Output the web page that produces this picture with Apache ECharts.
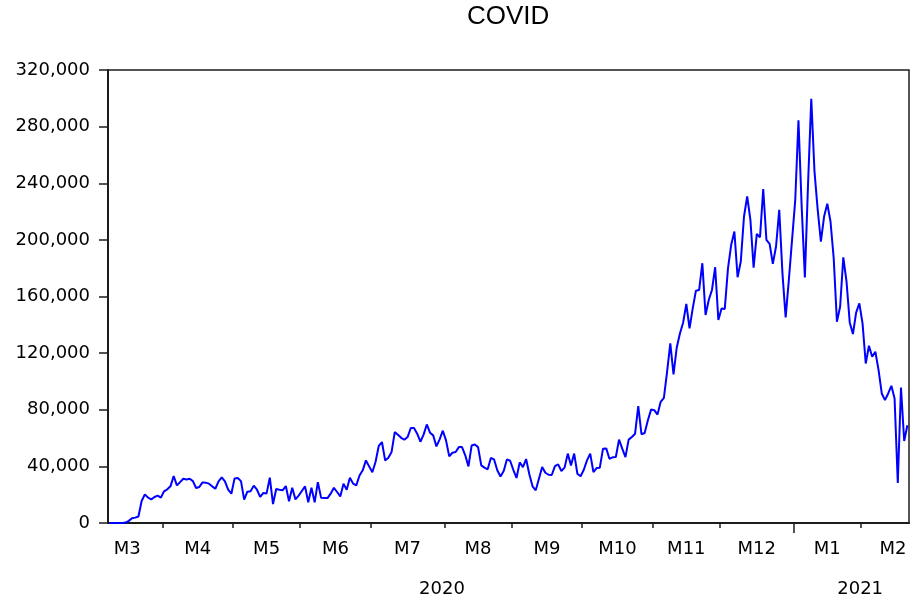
<!DOCTYPE html>
<html>
<head>
<meta charset="utf-8">
<title>COVID</title>
<script src="https://cdn.jsdelivr.net/npm/echarts@6/dist/echarts.min.js"></script>
<style>
  html, body { margin: 0; padding: 0; background: #ffffff; }
  #chart { width: 914px; height: 601px; }
</style>
</head>
<body>
<div id="chart"></div>
<script>
// Daily new COVID cases, one value per weekday, 9 Mar 2020 to 19 Feb 2021.
const mar2020 = [0, 0, 0, 0, 0, 300, 1500, 3400, 3800, 4600, 15500, 20200, 17900, 16700, 18400, 19300, 17900];
const apr2020 = [22400, 23800, 25900, 33200, 26600, 28900, 31300, 30800, 31300, 29600, 24700, 25400, 28700, 28500, 27800, 25900, 24200, 29400, 32200, 29400, 23500, 20700];
const may2020 = [31500, 31800, 29600, 16500, 22100, 22400, 26400, 23500, 18400, 21200, 20900, 32000, 13400, 24000, 23500, 23100, 26100, 15300, 24900, 16700, 19300];
const jun2020 = [22600, 25900, 14600, 24900, 14600, 28900, 17900, 17600, 17600, 20700, 24900, 21900, 18800, 27800, 23500, 32000, 27800, 26600, 33600, 37200, 44200, 40000];
const jul2020 = [35800, 43100, 54400, 57200, 44200, 46100, 50100, 64200, 62400, 60200, 58800, 60700, 67100, 67100, 63100, 57400, 62400, 69600, 63800, 61900, 54100, 59100, 65200];
const aug2020 = [58400, 47100, 49600, 50100, 53600, 53600, 47800, 40000, 54800, 55500, 53600, 40700, 39100, 37900, 45900, 44900, 37200, 32900, 36700, 44900, 44000];
const sep2020 = [37600, 31800, 42800, 39500, 45200, 34400, 25900, 23100, 31300, 39500, 35500, 34100, 33900, 40200, 41400, 36700, 39100, 49000, 40700, 49000, 34800, 33000];
const oct2020 = [37600, 44250, 49000, 36000, 38800, 39100, 52500, 52700, 45400, 46400, 46600, 58900, 52500, 46600, 58900, 60800, 63100, 82500, 62700, 63600, 72600, 80100];
const nov2020 = [79700, 76600, 85600, 88400, 107000, 126900, 104900, 123800, 133900, 141500, 154700, 137500, 151600, 164100, 164600, 183500, 146900, 157500, 164600, 180700, 143400];
const dec2020 = [151600, 151200, 179900, 196500, 205900, 173600, 184700, 216500, 230700, 214200, 180400, 204200, 201900, 235900, 200000, 197200, 183000, 195300, 221300, 176500, 145300, 171700, 200000];
const jan2021 = [228300, 284500, 223600, 173400, 240100, 299600, 248400, 221300, 198800, 216500, 225500, 213000, 187000, 142200, 152800, 187700, 170500, 141700, 133500, 148600, 155200];
const feb2021 = [141000, 112700, 125200, 117400, 121000, 108000, 91500, 86800, 91500, 96900, 87900, 28200, 95700, 57900, 69000];

const cases = [].concat(mar2020, apr2020, may2020, jun2020, jul2020, aug2020,
                        sep2020, oct2020, nov2020, dec2020, jan2021, feb2021);

const firstDay = '2020-03-09';
const lastDay = '2021-02-19';
const yTicks = [0, 40000, 80000, 120000, 160000, 200000, 240000, 280000, 320000];

// ---- weekday calendar -------------------------------------------------
const DAY = 86400000;
function isoDate(t) { return new Date(t).toISOString().slice(0, 10); }
function isWeekday(t) { const d = new Date(t).getUTCDay(); return d !== 0 && d !== 6; }
function parse(s) { return Date.UTC(+s.slice(0, 4), +s.slice(5, 7) - 1, +s.slice(8, 10)); }

const dates = [];
for (let t = parse(firstDay); t <= parse(lastDay); t += DAY) {
  if (isWeekday(t)) dates.push(isoDate(t));
}
const N = dates.length;

// Per-month layout on the weekday scale: where each month starts, and the
// centre of the whole calendar month (including weekdays outside the sample).
const months = [];
dates.forEach(function (d, i) {
  const key = d.slice(0, 7);
  if (!months.length || months[months.length - 1].key !== key) {
    const y = +key.slice(0, 4), m = +key.slice(5, 7);
    let before = 0, total = 0;
    for (let t = Date.UTC(y, m - 1, 1); t < Date.UTC(y, m, 1); t += DAY) {
      if (!isWeekday(t)) continue;
      total++;
      if (isoDate(t) < d) before++;
    }
    const fullStart = i - before;
    months.push({ key: key, year: y, month: m, start: i, centre: fullStart + total / 2 });
  }
});

const monthTickAt = months.slice(1).map(function (m) { return m.start; });
const monthLabelAt = months.map(function (m) { return m.centre; });
const monthLabelText = {};
months.forEach(function (m) { monthLabelText[String(m.centre)] = 'M' + m.month; });

const years = [];
months.forEach(function (m) {
  let y = years.find(function (o) { return o.year === m.year; });
  if (!y) { y = { year: m.year, start: m.start, first: m.centre, last: m.centre }; years.push(y); }
  y.last = m.centre;
});
const yearTickAt = years.slice(1).map(function (y) { return y.start; });
const yearLabelAt = years.map(function (y) { return (y.first + y.last) / 2; });
const yearLabelText = {};
years.forEach(function (y) { yearLabelText[String((y.first + y.last) / 2)] = String(y.year); });

// ---- chart ------------------------------------------------------------
const INK = '#1c1c1c';
const LABEL_FONT = { fontFamily: 'DejaVu Sans', fontSize: 18, color: '#000000' };

function thousands(v) { return String(v).replace(/\B(?=(\d{3})+(?!\d))/g, ','); }

const chart = echarts.init(document.getElementById('chart'), null, { renderer: 'canvas' });
chart.setOption({
  animation: false,
  backgroundColor: '#ffffff',
  title: {
    text: 'COVID',
    left: 467,
    top: 4,
    padding: 0,
    textStyle: { fontFamily: 'Liberation Sans', fontSize: 26, fontWeight: 'normal', color: '#000000' }
  },
  grid: {
    left: 108, right: 5, top: 70, bottom: 78,
    show: true, borderColor: INK, borderWidth: 1.5, backgroundColor: 'transparent'
  },
  xAxis: [
    {
      type: 'category',
      data: dates,
      boundaryGap: true,
      axisLine: { show: true, lineStyle: { color: INK, width: 2 } },
      axisTick: { show: false },
      axisLabel: { show: false },
      splitLine: { show: false }
    },
    {
      type: 'value', min: 0, max: N, position: 'bottom', offset: 0,
      axisLine: { show: false },
      splitLine: { show: false },
      axisTick: { show: true, length: 5, customValues: monthTickAt, lineStyle: { color: INK, width: 1.5 } },
      axisLabel: Object.assign({
        show: true, margin: 17, customValues: monthLabelAt,
        formatter: function (v) { return monthLabelText[String(v)] || ''; }
      }, LABEL_FONT)
    },
    {
      type: 'value', min: 0, max: N, position: 'bottom', offset: 0,
      axisLine: { show: false },
      splitLine: { show: false },
      axisTick: { show: true, length: 10, customValues: yearTickAt, lineStyle: { color: INK, width: 1.5 } },
      axisLabel: Object.assign({
        show: true, margin: 57, customValues: yearLabelAt,
        formatter: function (v) { return yearLabelText[String(v)] || ''; }
      }, LABEL_FONT)
    }
  ],
  yAxis: {
    type: 'value',
    min: yTicks[0],
    max: yTicks[yTicks.length - 1],
    interval: yTicks[1] - yTicks[0],
    axisLine: { show: true, lineStyle: { color: INK, width: 2 } },
    axisTick: { show: true, length: 9, lineStyle: { color: INK, width: 1.5 } },
    splitLine: { show: false },
    axisLabel: Object.assign({ margin: 18, formatter: thousands }, LABEL_FONT)
  },
  series: [{
    name: 'COVID',
    type: 'line',
    xAxisIndex: 0,
    data: cases,
    symbol: 'none',
    showSymbol: false,
    lineStyle: { color: '#0000ff', width: 2 },
    itemStyle: { color: '#0000ff' }
  }]
});
</script>
</body>
</html>
